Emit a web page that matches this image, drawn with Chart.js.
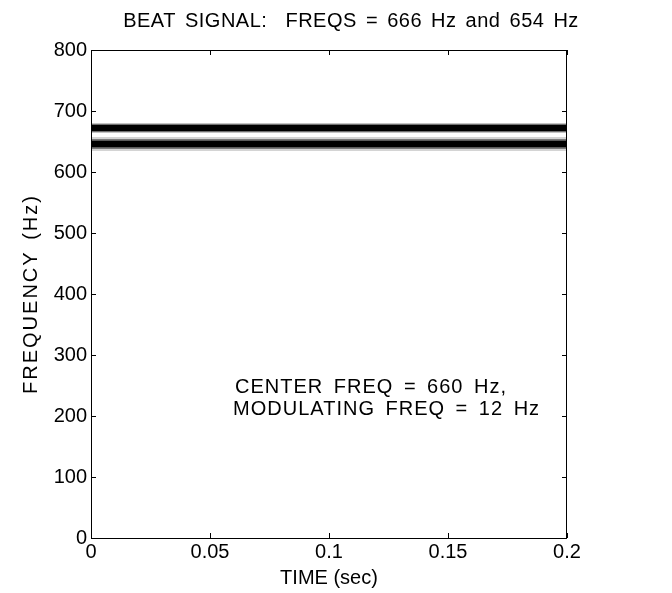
<!DOCTYPE html>
<html lang="en">
<head>
  <meta charset="UTF-8" />
  <title>Beat Signal Spectrogram</title>
  <script src="https://cdn.jsdelivr.net/npm/chart.js@4.4.3/dist/chart.umd.js"></script>
  <style>
    *{margin:0;padding:0;box-sizing:border-box}
    body{background:#fff;width:672px;height:593px;overflow:hidden}
    #wrap{position:relative;width:672px;height:593px}
  </style>
</head>
<body>
  <div id="wrap"><canvas id="spec"></canvas></div>

  <script>
    /* ==== DATA ==== */
    const timeSpan   = [0, 0.2];          // sec
    const bandFreqs  = [672, 646];        // Hz, the two dark stripes
    const xTicks     = [0, 0.05, 0.1, 0.15, 0.2];
    const yTicks     = [0, 100, 200, 300, 400, 500, 600, 700, 800];
    const titleText  = 'BEAT SIGNAL:  FREQS = 666 Hz and 654 Hz';
    const xLabel     = 'TIME (sec)';
    const yLabel     = 'FREQUENCY (Hz)';
    const noteLines  = ['CENTER FREQ = 660 Hz,', 'MODULATING FREQ = 12 Hz'];
    const noteX      = [0.0605, 0.0597];
    const noteY      = [246, 210];

    const FONT = "'Liberation Sans', Arial, sans-serif";

    /* each stripe = core + mid + halo (first dataset is painted on top) */
    const layers = [
      [{w:6,c:'#000'},{w:8,c:'#707070'},{w:10,c:'#c4c4c4'}],
      [{w:6.5,c:'#000'},{w:10,c:'#7a7a7a'},{w:14,c:'#d4d4d4'}]
    ];
    const datasets = [];
    bandFreqs.forEach((f,i)=>{
      layers[i].forEach(l=>{
        datasets.push({
          data: timeSpan.map(t=>({x:t,y:f})),
          borderColor:l.c, borderWidth:l.w, borderCapStyle:'butt',
          pointRadius:0, tension:0, fill:false
        });
      });
    });

    function spacedText(ctx, txt, x, y, ls, ws){
      ctx.letterSpacing = ls + 'px';
      ctx.wordSpacing = ws + 'px';
      ctx.fillText(txt, x, y);
      ctx.letterSpacing = '0px';
      ctx.wordSpacing = '0px';
    }

    /* ==== PLUGIN: box, inward ticks, labels, note ==== */
    const matlabAxes = {
      id:'matlabAxes',
      afterDraw(chart){
        const {ctx, chartArea:a, scales:{x, y}} = chart;
        ctx.save();
        ctx.strokeStyle = '#000';
        ctx.lineWidth = 1;
        ctx.strokeRect(a.left+0.5, a.top+0.5, a.right-a.left-1, a.bottom-a.top);
        const tl = 5;
        ctx.beginPath();
        xTicks.forEach(v=>{
          const px = Math.round(x.getPixelForValue(v))+0.5;
          ctx.moveTo(px, a.bottom); ctx.lineTo(px, a.bottom-tl);
          ctx.moveTo(px, a.top);    ctx.lineTo(px, a.top+tl);
        });
        yTicks.forEach(v=>{
          const py = Math.round(y.getPixelForValue(v))+0.5;
          ctx.moveTo(a.left, py);  ctx.lineTo(a.left+tl, py);
          ctx.moveTo(a.right, py); ctx.lineTo(a.right-tl, py);
        });
        ctx.stroke();

        ctx.fillStyle = '#000';
        ctx.font = '20px ' + FONT;
        ctx.textBaseline = 'middle';

        // title
        ctx.textAlign = 'center';
        spacedText(ctx, titleText, 351, 21, 0.5, 3);
        // x label
        ctx.fillText(xLabel, (a.left+a.right)/2, 578);
        // y label
        ctx.save();
        ctx.translate(31, (a.top+a.bottom)/2);
        ctx.rotate(-Math.PI/2);
        spacedText(ctx, yLabel, 0, 0, 2, 3);
        ctx.restore();

        // note
        ctx.textAlign = 'left';
        noteLines.forEach((t,i)=>{
          spacedText(ctx, t, x.getPixelForValue(noteX[i]), y.getPixelForValue(noteY[i]), 1, 4);
        });
        ctx.restore();
      }
    };

    const tickFont = {family:FONT, size:20};

    new Chart(document.getElementById('spec'), {
      type:'line',
      data:{datasets},
      options:{
        responsive:true, maintainAspectRatio:false, animation:false,
        layout:{padding:{left:0, right:105, top:50, bottom:0}},
        plugins:{
          legend:{display:false},
          tooltip:{enabled:false},
          title:{display:false}
        },
        scales:{
          x:{
            type:'linear', min:timeSpan[0], max:timeSpan[1],
            afterFit(s){ s.height = 55; },
            afterBuildTicks(s){ s.ticks = xTicks.map(v=>({value:v})); },
            ticks:{color:'#000', font:tickFont, padding:2, maxRotation:0,
                   callback:v=>String(+v.toFixed(2))},
            grid:{display:true, drawOnChartArea:false, drawTicks:false},
            border:{display:false}
          },
          y:{
            min:0, max:800,
            afterFit(s){ s.width = 91; },
            afterBuildTicks(s){ s.ticks = yTicks.map(v=>({value:v})); },
            ticks:{color:'#000', font:tickFont, padding:4},
            grid:{display:true, drawOnChartArea:false, drawTicks:false},
            border:{display:false}
          }
        }
      },
      plugins:[matlabAxes]
    });
  </script>
</body>
</html>
